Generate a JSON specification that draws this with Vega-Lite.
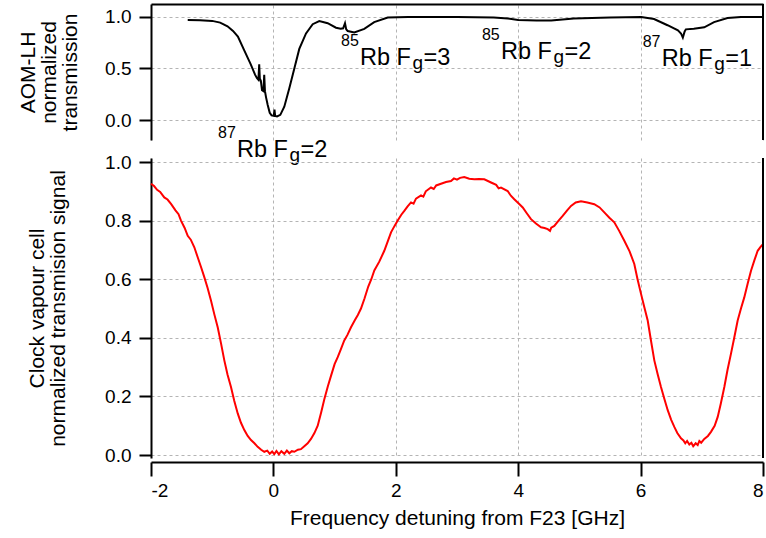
{
  "$schema": "https://vega.github.io/schema/vega-lite/v6.json",
  "background": "white",
  "padding": {"left": 17, "top": 3, "right": 0, "bottom": 4},
  "spacing": 18,
  "bounds": "flush",
  "config": {
    "view": {"stroke": null},
    "axis": {
      "labelFont": "Liberation Sans", "titleFont": "Liberation Sans",
      "labelFontSize": 19, "titleFontSize": 21, "titleFontWeight": "normal",
      "labelColor": "black", "titleColor": "black",
      "domain": true, "domainColor": "black", "domainWidth": 2,
      "tickColor": "black", "tickWidth": 2,
      "gridColor": "#b4b4b4", "gridDash": [3, 3], "gridWidth": 1
    },
    "text": {"font": "Liberation Sans", "color": "black"}
  },
  "datasets": {
    "aom": [
      {"f": -1.40, "t": 0.97}, {"f": -1.20, "t": 0.968}, {"f": -1.00, "t": 0.962}, {"f": -0.87, "t": 0.945},
      {"f": -0.75, "t": 0.91}, {"f": -0.66, "t": 0.865}, {"f": -0.58, "t": 0.81}, {"f": -0.48, "t": 0.68},
      {"f": -0.37, "t": 0.54}, {"f": -0.30, "t": 0.44}, {"f": -0.268, "t": 0.405}, {"f": -0.245, "t": 0.39},
      {"f": -0.232, "t": 0.54}, {"f": -0.222, "t": 0.40}, {"f": -0.205, "t": 0.38}, {"f": -0.186, "t": 0.29},
      {"f": -0.162, "t": 0.28}, {"f": -0.150, "t": 0.44}, {"f": -0.138, "t": 0.28}, {"f": -0.12, "t": 0.22},
      {"f": -0.093, "t": 0.146}, {"f": -0.06, "t": 0.07}, {"f": -0.03, "t": 0.045}, {"f": 0.005, "t": 0.04},
      {"f": 0.018, "t": 0.10}, {"f": 0.028, "t": 0.04}, {"f": 0.06, "t": 0.035}, {"f": 0.113, "t": 0.05},
      {"f": 0.178, "t": 0.129}, {"f": 0.26, "t": 0.308}, {"f": 0.342, "t": 0.50}, {"f": 0.423, "t": 0.69},
      {"f": 0.533, "t": 0.84}, {"f": 0.642, "t": 0.93}, {"f": 0.75, "t": 0.96}, {"f": 0.887, "t": 0.94},
      {"f": 1.023, "t": 0.896}, {"f": 1.10, "t": 0.885}, {"f": 1.14, "t": 0.89}, {"f": 1.17, "t": 0.94},
      {"f": 1.19, "t": 0.88}, {"f": 1.214, "t": 0.864}, {"f": 1.322, "t": 0.85}, {"f": 1.485, "t": 0.885},
      {"f": 1.647, "t": 0.95}, {"f": 1.868, "t": 0.995}, {"f": 2.2, "t": 1.0}, {"f": 3.0, "t": 1.0},
      {"f": 3.6, "t": 0.995}, {"f": 3.83, "t": 0.985}, {"f": 4.0, "t": 0.97}, {"f": 4.3, "t": 0.965},
      {"f": 4.54, "t": 0.965}, {"f": 4.91, "t": 0.985}, {"f": 5.5, "t": 0.995}, {"f": 6.01, "t": 1.0},
      {"f": 6.22, "t": 0.98}, {"f": 6.44, "t": 0.92}, {"f": 6.61, "t": 0.87}, {"f": 6.66, "t": 0.84},
      {"f": 6.69, "t": 0.80}, {"f": 6.72, "t": 0.86}, {"f": 6.74, "t": 0.88}, {"f": 6.87, "t": 0.885},
      {"f": 7.04, "t": 0.90}, {"f": 7.20, "t": 0.95}, {"f": 7.42, "t": 0.99}, {"f": 7.64, "t": 1.0},
      {"f": 8.0, "t": 1.0}
    ],
    "labels": [
      {"f": -0.905, "t": -0.357, "sup": "87", "main": "Rb F", "sub": "g", "tail": "=2"},
      {"f": 1.105, "t": 0.531, "sup": "85", "main": "Rb F", "sub": "g", "tail": "=3"},
      {"f": 3.408, "t": 0.589, "sup": "85", "main": "Rb F", "sub": "g", "tail": "=2"},
      {"f": 6.034, "t": 0.521, "sup": "87", "main": "Rb F", "sub": "g", "tail": "=1"}
    ],
    "clock": [
      {"f": -2.0, "s": 0.926}, {"f": -1.95, "s": 0.918}, {"f": -1.90, "s": 0.905}, {"f": -1.85, "s": 0.898}, {"f": -1.783, "s": 0.879}, {"f": -1.73, "s": 0.872}, {"f": -1.673, "s": 0.857},
      {"f": -1.60, "s": 0.835}, {"f": -1.55, "s": 0.822}, {"f": -1.51, "s": 0.80}, {"f": -1.45, "s": 0.775}, {"f": -1.40, "s": 0.748},
      {"f": -1.35, "s": 0.735}, {"f": -1.292, "s": 0.709}, {"f": -1.237, "s": 0.675}, {"f": -1.18, "s": 0.64}, {"f": -1.129, "s": 0.607},
      {"f": -1.075, "s": 0.57}, {"f": -1.02, "s": 0.527}, {"f": -0.965, "s": 0.48}, {"f": -0.910, "s": 0.436},
      {"f": -0.855, "s": 0.38}, {"f": -0.802, "s": 0.323}, {"f": -0.75, "s": 0.275}, {"f": -0.693, "s": 0.232},
      {"f": -0.64, "s": 0.185}, {"f": -0.583, "s": 0.142}, {"f": -0.53, "s": 0.11}, {"f": -0.475, "s": 0.085},
      {"f": -0.42, "s": 0.065}, {"f": -0.366, "s": 0.051}, {"f": -0.31, "s": 0.04}, {"f": -0.257, "s": 0.028},
      {"f": -0.20, "s": 0.018}, {"f": -0.149, "s": 0.011}, {"f": -0.10, "s": 0.015}, {"f": -0.06, "s": 0.004},
      {"f": -0.02, "s": 0.012}, {"f": 0.015, "s": 0.003}, {"f": 0.05, "s": 0.014}, {"f": 0.09, "s": 0.002},
      {"f": 0.13, "s": 0.013}, {"f": 0.178, "s": 0.004}, {"f": 0.22, "s": 0.015}, {"f": 0.26, "s": 0.006},
      {"f": 0.30, "s": 0.013}, {"f": 0.342, "s": 0.011}, {"f": 0.40, "s": 0.018}, {"f": 0.45, "s": 0.02},
      {"f": 0.505, "s": 0.03}, {"f": 0.56, "s": 0.04}, {"f": 0.614, "s": 0.055}, {"f": 0.67, "s": 0.075},
      {"f": 0.724, "s": 0.10}, {"f": 0.78, "s": 0.145}, {"f": 0.832, "s": 0.19}, {"f": 0.89, "s": 0.235},
      {"f": 0.941, "s": 0.27}, {"f": 1.0, "s": 0.31}, {"f": 1.051, "s": 0.334}, {"f": 1.10, "s": 0.36},
      {"f": 1.158, "s": 0.391}, {"f": 1.21, "s": 0.41}, {"f": 1.268, "s": 0.436}, {"f": 1.33, "s": 0.46},
      {"f": 1.38, "s": 0.478}, {"f": 1.431, "s": 0.50}, {"f": 1.49, "s": 0.535}, {"f": 1.55, "s": 0.575},
      {"f": 1.60, "s": 0.60}, {"f": 1.649, "s": 0.63}, {"f": 1.73, "s": 0.66}, {"f": 1.812, "s": 0.697},
      {"f": 1.87, "s": 0.73}, {"f": 1.922, "s": 0.76}, {"f": 1.98, "s": 0.782}, {"f": 2.031, "s": 0.80},
      {"f": 2.09, "s": 0.82}, {"f": 2.139, "s": 0.833}, {"f": 2.19, "s": 0.848}, {"f": 2.248, "s": 0.862},
      {"f": 2.29, "s": 0.858}, {"f": 2.33, "s": 0.875}, {"f": 2.412, "s": 0.886}, {"f": 2.45, "s": 0.882}, {"f": 2.49, "s": 0.90}, {"f": 2.575, "s": 0.913},
      {"f": 2.62, "s": 0.908}, {"f": 2.66, "s": 0.92}, {"f": 2.739, "s": 0.926}, {"f": 2.82, "s": 0.932}, {"f": 2.902, "s": 0.935},
      {"f": 2.95, "s": 0.944}, {"f": 3.0, "s": 0.94}, {"f": 3.05, "s": 0.946}, {"f": 3.119, "s": 0.949}, {"f": 3.2, "s": 0.943}, {"f": 3.283, "s": 0.941},
      {"f": 3.36, "s": 0.942}, {"f": 3.446, "s": 0.941}, {"f": 3.556, "s": 0.93}, {"f": 3.64, "s": 0.922},
      {"f": 3.68, "s": 0.91}, {"f": 3.719, "s": 0.913}, {"f": 3.828, "s": 0.901}, {"f": 3.88, "s": 0.885}, {"f": 3.936, "s": 0.873},
      {"f": 4.0, "s": 0.86}, {"f": 4.074, "s": 0.845}, {"f": 4.14, "s": 0.825}, {"f": 4.209, "s": 0.805},
      {"f": 4.29, "s": 0.79}, {"f": 4.373, "s": 0.777}, {"f": 4.43, "s": 0.775}, {"f": 4.482, "s": 0.771},
      {"f": 4.52, "s": 0.765}, {"f": 4.54, "s": 0.776}, {"f": 4.59, "s": 0.782}, {"f": 4.66, "s": 0.80}, {"f": 4.727, "s": 0.816},
      {"f": 4.80, "s": 0.835}, {"f": 4.863, "s": 0.85}, {"f": 4.94, "s": 0.862}, {"f": 5.026, "s": 0.866},
      {"f": 5.13, "s": 0.862}, {"f": 5.243, "s": 0.856}, {"f": 5.33, "s": 0.845}, {"f": 5.407, "s": 0.828},
      {"f": 5.49, "s": 0.81}, {"f": 5.57, "s": 0.794}, {"f": 5.65, "s": 0.765}, {"f": 5.734, "s": 0.731},
      {"f": 5.82, "s": 0.695}, {"f": 5.897, "s": 0.652}, {"f": 5.95, "s": 0.60}, {"f": 6.007, "s": 0.55},
      {"f": 6.06, "s": 0.505}, {"f": 6.116, "s": 0.459}, {"f": 6.17, "s": 0.39}, {"f": 6.224, "s": 0.323},
      {"f": 6.28, "s": 0.275}, {"f": 6.333, "s": 0.232}, {"f": 6.39, "s": 0.19}, {"f": 6.443, "s": 0.153},
      {"f": 6.50, "s": 0.12}, {"f": 6.551, "s": 0.096}, {"f": 6.60, "s": 0.075}, {"f": 6.66, "s": 0.057},
      {"f": 6.70, "s": 0.05}, {"f": 6.73, "s": 0.04}, {"f": 6.76, "s": 0.048}, {"f": 6.796, "s": 0.036}, {"f": 6.83, "s": 0.042}, {"f": 6.86, "s": 0.03}, {"f": 6.90, "s": 0.04}, {"f": 6.933, "s": 0.034},
      {"f": 6.96, "s": 0.048}, {"f": 6.99, "s": 0.042}, {"f": 7.041, "s": 0.055}, {"f": 7.10, "s": 0.065}, {"f": 7.15, "s": 0.079},
      {"f": 7.21, "s": 0.10}, {"f": 7.26, "s": 0.13}, {"f": 7.31, "s": 0.175}, {"f": 7.368, "s": 0.232},
      {"f": 7.42, "s": 0.29}, {"f": 7.477, "s": 0.346}, {"f": 7.53, "s": 0.40}, {"f": 7.586, "s": 0.459},
      {"f": 7.64, "s": 0.50}, {"f": 7.694, "s": 0.538}, {"f": 7.75, "s": 0.585}, {"f": 7.804, "s": 0.629},
      {"f": 7.86, "s": 0.665}, {"f": 7.913, "s": 0.697}, {"f": 7.96, "s": 0.71}, {"f": 8.0, "s": 0.72}
    ]
  },
  "vconcat": [
    {
      "width": 612,
      "height": 136,
      "encoding": {
        "x": {"field": "f", "type": "quantitative",
          "scale": {"domain": [-2, 8], "nice": false, "zero": false},
          "axis": {"orient": "top", "values": [-2, 0, 2, 4, 6, 8], "labels": false, "ticks": false, "domain": true, "grid": true, "title": null}},
        "y": {"field": "t", "type": "quantitative",
          "scale": {"domain": [-0.194, 1.126], "nice": false, "zero": false},
          "axis": {"orient": "left", "values": [0, 0.5, 1], "format": ".1f", "tickSize": 12, "labelPadding": 8, "domain": true, "grid": true,
            "title": ["AOM-LH", "normalized", "transmission"], "titlePadding": 24, "titleLineHeight": 21}}
      },
      "layer": [
        {
          "data": {"name": "aom"},
          "mark": {"type": "line", "color": "black", "strokeWidth": 2}
        },
        {
          "data": {"name": "aom"},
          "mark": {"type": "rule", "color": "black", "strokeWidth": 2},
          "encoding": {"x": {"datum": 8, "type": "quantitative"}, "y": null}
        },
        {
          "data": {"name": "labels"},
          "mark": {"type": "text", "align": "left", "baseline": "alphabetic", "fontSize": 16, "dy": -19},
          "encoding": {"text": {"field": "sup"}}
        },
        {
          "data": {"name": "labels"},
          "mark": {"type": "text", "align": "left", "baseline": "alphabetic", "fontSize": 23.5, "dx": 19},
          "encoding": {"text": {"field": "main"}}
        },
        {
          "data": {"name": "labels"},
          "mark": {"type": "text", "align": "left", "baseline": "alphabetic", "fontSize": 19, "dx": 71.5, "dy": 4},
          "encoding": {"text": {"field": "sub"}}
        },
        {
          "data": {"name": "labels"},
          "mark": {"type": "text", "align": "left", "baseline": "alphabetic", "fontSize": 23.5, "dx": 82.5},
          "encoding": {"text": {"field": "tail"}}
        }
      ]
    },
    {
      "width": 612,
      "height": 300,
      "encoding": {
        "x": {"field": "f", "type": "quantitative",
          "scale": {"domain": [-2, 8], "nice": false, "zero": false},
          "axis": {"orient": "bottom", "values": [-2, 0, 2, 4, 6, 8], "labelExpr": "'' + datum.value", "tickSize": 14, "offset": 4,
            "labelPadding": 5, "domain": true, "grid": true, "title": "Frequency detuning from F23 [GHz]", "titlePadding": 7}},
        "y": {"field": "s", "type": "quantitative",
          "scale": {"domain": [-0.0102, 1.0137], "nice": false, "zero": false},
          "axis": {"orient": "left", "values": [0, 0.2, 0.4, 0.6, 0.8, 1], "format": ".1f", "tickSize": 12, "labelPadding": 8, "domain": true, "grid": true,
            "title": ["Clock vapour cell", "normalized transmision signal"], "titlePadding": 36, "titleLineHeight": 21}}
      },
      "layer": [
        {
          "data": {"name": "clock"},
          "mark": {"type": "line", "color": "#ff0000", "strokeWidth": 2}
        },
        {
          "data": {"name": "clock"},
          "mark": {"type": "rule", "color": "black", "strokeWidth": 2},
          "encoding": {"x": {"datum": 8, "type": "quantitative"}, "y": null}
        }
      ]
    }
  ]
}
